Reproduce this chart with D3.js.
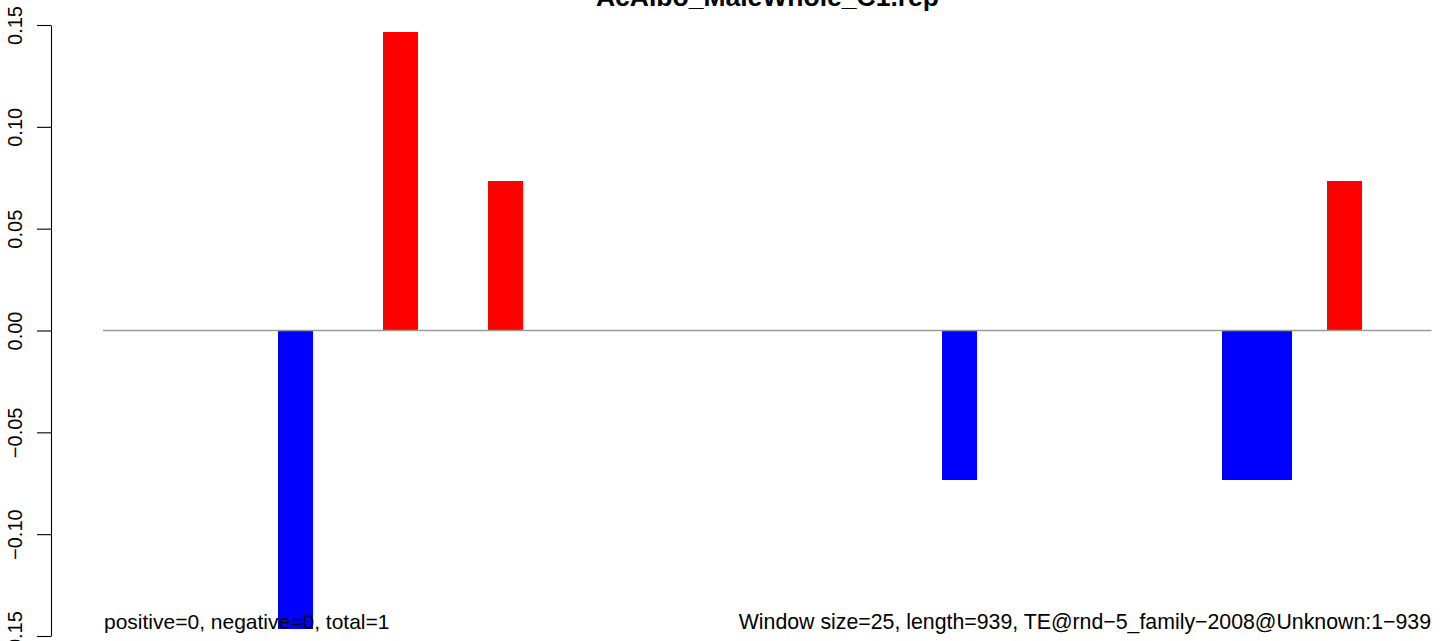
<!DOCTYPE html>
<html>
<head>
<meta charset="utf-8">
<script src="https://cdn.jsdelivr.net/npm/d3@7"></script>
<style>
  html, body { margin: 0; padding: 0; background: #fff; }
  svg { display: block; }
  text { font-family: "Liberation Sans", Arial, Helvetica, sans-serif; }
</style>
</head>
<body>
<svg id="chart" width="1444" height="641"></svg>
<script>
// ---- data ----
const title = "AcAlbo_MaleWhole_C1.rep";
const windowSize = 25;
const seqLength = 939;
const windowIndex = d3.range(38); // 38 windows of 25 bp
const windowValues = [
  0, 0, 0, 0, 0, -0.1466, 0, 0, 0.1466, 0,
  0, 0.0733, 0, 0, 0, 0, 0, 0, 0, 0,
  0, 0, 0, 0, -0.0733, 0, 0, 0, 0, 0,
  0, 0, -0.0733, -0.0733, 0, 0.0733, 0, 0
];
const yTicks = [-0.15, -0.10, -0.05, 0.00, 0.05, 0.10, 0.15];
const leftNote = "positive=0, negative=0, total=1";
const rightNote = "Window size=25, length=939, TE@rnd\u22125_family\u22122008@Unknown:1\u2212939";

// ---- drawing ----
const svg = d3.select("#chart");
const x = d3.scaleLinear().domain([0, windowIndex.length]).range([103.5, 1431.5]);
const y = d3.scaleLinear().domain([-0.15, 0.15]).range([636, 25]);

const bars = windowIndex.map((i) => ({ i, v: windowValues[i] })).filter(d => d.v !== 0);

svg.append("g").attr("shape-rendering", "crispEdges")
  .selectAll("rect").data(bars).join("rect")
  .attr("x", d => Math.round(x(d.i)))
  .attr("width", d => Math.round(x(d.i + 1)) - Math.round(x(d.i)))
  .attr("y", d => y(Math.max(0, d.v)))
  .attr("height", d => Math.abs(y(d.v) - y(0)))
  .attr("fill", d => d.v > 0 ? "#ff0000" : "#0000ff");

// zero line
svg.append("line")
  .attr("x1", x.range()[0] - 0.5).attr("x2", x.range()[1])
  .attr("y1", y(0)).attr("y2", y(0))
  .attr("stroke", "#9a9a9a").attr("stroke-width", 1.3);

// y axis
const axis = d3.axisLeft(y).tickValues(yTicks).tickSize(14).tickSizeOuter(0)
  .tickFormat(d3.format(".2f"));
const gAxis = svg.append("g").attr("transform", "translate(51,0)").call(axis);
gAxis.select(".domain").attr("stroke", "#000").attr("stroke-width", 1.1);
gAxis.selectAll(".tick line").attr("stroke", "#000").attr("stroke-width", 1.1);
gAxis.selectAll(".tick text")
  .text(d => d3.format(".2f")(d).replace("-", "\u2212"))
  .attr("transform", "rotate(-90)")
  .attr("x", 0).attr("y", -29).attr("dy", 0)
  .attr("text-anchor", "middle")
  .attr("fill", "#000")
  .style("font-size", "20px")
  .style("font-family", "'Liberation Sans', Arial, Helvetica, sans-serif");

// title
svg.append("text")
  .attr("x", (x.range()[0] + x.range()[1]) / 2).attr("y", 6)
  .attr("text-anchor", "middle")
  .style("font-size", "26.5px").style("font-weight", "bold")
  .text(title);

// notes
svg.append("text")
  .attr("x", 104).attr("y", 629)
  .attr("text-anchor", "start")
  .style("font-size", "21px")
  .text(leftNote);
svg.append("text")
  .attr("x", 1431).attr("y", 629)
  .attr("text-anchor", "end")
  .style("font-size", "21.3px")
  .text(rightNote);
</script>
</body>
</html>
